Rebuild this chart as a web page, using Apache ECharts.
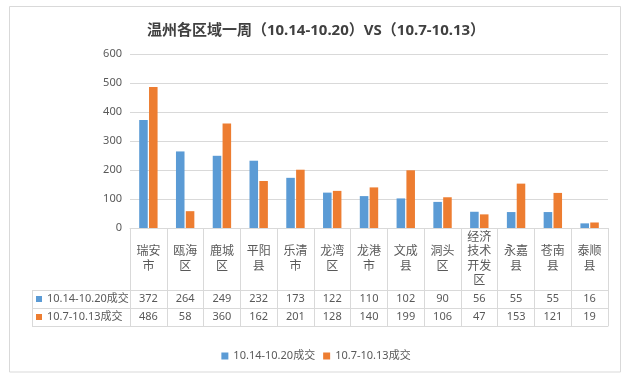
<!DOCTYPE html>
<html>
<head>
<meta charset="utf-8">
<script src="https://cdn.jsdelivr.net/npm/echarts@6/dist/echarts.min.js"></script>
<style>html,body{margin:0;padding:0;background:#fff;}#c{width:632px;height:381px;}</style>
</head>
<body>
<div id="c"></div>
<script>
var categories = ['瑞安市','瓯海区','鹿城区','平阳县','乐清市','龙湾区','龙港市','文成县','洞头区','经济技术开发区','永嘉县','苍南县','泰顺县'];
var seriesNames = ['10.14-10.20成交', '10.7-10.13成交'];
var weekA = [372,264,249,232,173,122,110,102,90,56,55,55,16];
var weekB = [486,58,360,162,201,128,140,199,106,47,153,121,19];
var yTicks = [0,100,200,300,400,500,600];

var FONT = "'Noto Sans', 'Noto Sans CJK SC', sans-serif";
var GRID = {left:130, right:24, top:54, bottom:153};
var W = 632, H = 381;
var axisY = H - GRID.bottom;      // 228
var catRow = 62, dataRow = 18;
var tableLeft = 32;
var lineColor = '#d9d9d9';
var textColor = '#595959';

function splitLabel(s){
  var out = [];
  for (var i = 0; i < s.length; i += 2) out.push(s.substr(i, 2));
  return out.join('\n');
}

var chart = echarts.init(document.getElementById('c'), null, {renderer:'canvas'});

var rowLines = [];
[catRow, catRow + dataRow, catRow + 2*dataRow].forEach(function(off){
  rowLines.push({type:'line', silent:true, shape:{x1:tableLeft, y1:axisY+off+0.5, x2:GRID.left, y2:axisY+off+0.5}, style:{stroke:lineColor, lineWidth:1}});
});
rowLines.push({type:'line', silent:true, shape:{x1:tableLeft+0.5, y1:axisY+catRow, x2:tableLeft+0.5, y2:axisY+catRow+2*dataRow}, style:{stroke:lineColor, lineWidth:1}});
rowLines.push({type:'rect', silent:true, z:-1, shape:{x:9.5, y:6.5, width:611, height:365.5}, style:{stroke:lineColor, fill:null, lineWidth:1}});

var option = {
  backgroundColor:'#fff',
  animation:false,
  textStyle:{fontFamily:FONT},
  color:['#5B9BD5','#ED7D31'],
  title:{
    text:'温州各区域一周（10.14-10.20）VS（10.7-10.13）',
    left:'center', top:18,
    textStyle:{fontSize:15, fontWeight:'bold', color:'#404040', fontFamily:FONT}
  },
  legend:[
    {
      data:seriesNames, left:'center', top:350, padding:0, itemGap:8,
      icon:'rect', itemWidth:7, itemHeight:7,
      textStyle:{fontSize:11, color:textColor, lineHeight:12, fontFamily:FONT}
    },
    {
      data:seriesNames, orient:'vertical', left:36, top:axisY+catRow+3, padding:0, itemGap:6,
      icon:'rect', itemWidth:6, itemHeight:6,
      textStyle:{fontSize:11, color:textColor, lineHeight:12, fontFamily:FONT}
    }
  ],
  grid:{left:GRID.left, right:GRID.right, top:GRID.top, bottom:GRID.bottom},
  xAxis:[
    {
      type:'category', data:categories, position:'bottom',
      axisLine:{show:true, lineStyle:{color:lineColor}},
      axisTick:{show:true, length:catRow + 2*dataRow, interval:0, lineStyle:{color:lineColor}},
      axisLabel:{interval:0, margin:31, verticalAlign:'middle', lineHeight:14.5, fontSize:12, color:textColor, fontFamily:FONT, formatter:splitLabel}
    },
    {
      type:'category', data:weekA.map(String), position:'bottom', offset:catRow,
      axisLine:{show:true, lineStyle:{color:lineColor}},
      axisTick:{show:false},
      axisLabel:{interval:0, margin:9, verticalAlign:'middle', fontSize:11, color:textColor, fontFamily:FONT}
    },
    {
      type:'category', data:weekB.map(String), position:'bottom', offset:catRow + dataRow,
      axisLine:{show:true, lineStyle:{color:lineColor}},
      axisTick:{show:false},
      axisLabel:{interval:0, margin:9, verticalAlign:'middle', fontSize:11, color:textColor, fontFamily:FONT}
    },
    {
      type:'category', data:categories, position:'bottom', offset:catRow + 2*dataRow,
      axisLine:{show:true, lineStyle:{color:lineColor}},
      axisTick:{show:false},
      axisLabel:{show:false}
    }
  ],
  yAxis:{
    type:'value', min:yTicks[0], max:yTicks[yTicks.length-1], interval:100,
    axisLine:{show:false}, axisTick:{show:false},
    splitLine:{lineStyle:{color:lineColor}},
    axisLabel:{fontSize:11, color:textColor, margin:8, fontFamily:FONT}
  },
  series:[
    {name:seriesNames[0], type:'bar', data:weekA, barGap:'15%', barCategoryGap:'50%', xAxisIndex:0},
    {name:seriesNames[1], type:'bar', data:weekB, barGap:'15%', barCategoryGap:'50%', xAxisIndex:0}
  ],
  graphic:rowLines
};
chart.setOption(option);
</script>
</body>
</html>
